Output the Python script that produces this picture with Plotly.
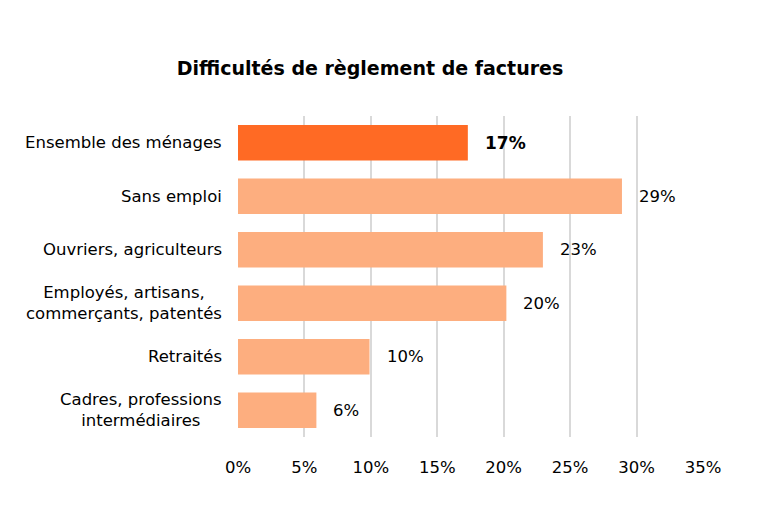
import plotly.graph_objects as go

categories = ["Ensemble des ménages", "Sans emploi", "Ouvriers, agriculteurs",
              "Employés, artisans,<br>commerçants, patentés", "Retraités",
              "Cadres, professions<br>intermédiaires"]
values = [17.3, 28.9, 22.95, 20.2, 9.9, 5.9]
value_labels = ["17%", "29%", "23%", "20%", "10%", "6%"]
tick_vals = [0, 5, 10, 15, 20, 25, 30, 35]
tick_text = ["0%", "5%", "10%", "15%", "20%", "25%", "30%", "35%"]

highlight = "#FF6A24"
normal = "#FDAE7F"
colors = [highlight] + [normal] * (len(categories) - 1)

FONT = "DejaVu Sans"

fig = go.Figure()
fig.add_trace(go.Bar(
    y=categories, x=values, orientation="h",
    marker=dict(color=colors, line=dict(width=0)),
    width=0.66, hoverinfo="skip",
))

for i, (c, v, t) in enumerate(zip(categories, values, value_labels)):
    fig.add_annotation(
        x=v, y=c, text=("<b>%s</b>" % t) if i == 0 else t,
        xanchor="left", yanchor="middle", xshift=15, showarrow=False,
        font=dict(family=FONT, size=17 if i == 0 else 16.5, color="#000000"),
    )
    # category label (centered multi-line like the original)
    fig.add_annotation(
        x=0, xref="paper", y=c, text=c, xanchor="right", yanchor="middle",
        xshift=-14, align="center", showarrow=False,
        font=dict(family=FONT, size=16.5, color="#000000"),
    )

fig.update_layout(
    width=780, height=530,
    margin=dict(l=230, r=85, t=108, b=101, autoexpand=False),
    paper_bgcolor="white", plot_bgcolor="white",
    title=dict(text="<b>Difficultés de règlement de factures</b>", x=362 / 780, xanchor="center",
               y=1 - 60 / 530, yanchor="middle",
               font=dict(family=FONT, size=19, color="#000000")),
    showlegend=False,
    xaxis=dict(range=[0, 35], tickvals=tick_vals, ticktext=tick_text,
               showgrid=True, gridcolor="#D9D9D9", gridwidth=2,
               zeroline=False, showline=False, ticks="",
               tickfont=dict(family=FONT, size=16.5, color="#000000"),
               ticklabelstandoff=18, fixedrange=True, automargin=False),
    yaxis=dict(autorange="reversed", showgrid=False, zeroline=False, showline=False,
               ticks="", showticklabels=False, fixedrange=True, automargin=False),
)

fig.write_html("out.html", config={"displayModeBar": False})
